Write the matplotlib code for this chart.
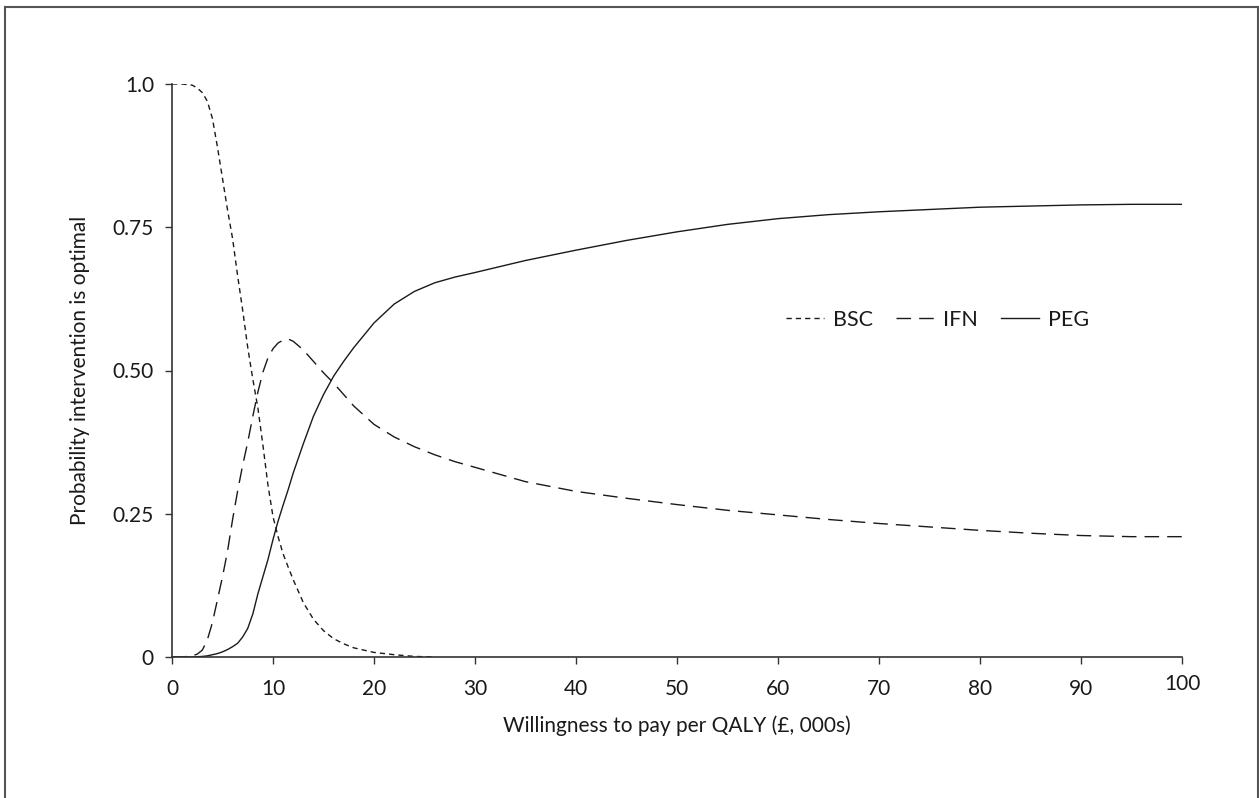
import matplotlib
matplotlib.use("Agg")
import matplotlib.pyplot as plt
from matplotlib.lines import Line2D
import matplotlib.transforms as mtrans
import numpy as np

# ---- data ----
wtp = [0, 1, 2, 2.5, 3, 3.5, 4, 4.5, 5, 5.5, 6, 6.5, 7, 7.5, 8, 8.5, 9, 9.5,
       10, 10.5, 11, 11.5, 12, 13, 14, 15, 16, 17, 18, 20, 22, 24, 26, 28,
       30, 35, 40, 45, 50, 55, 60, 65, 70, 75, 80, 85, 90, 95, 100]
bsc = [1.0, 1.0, 0.998, 0.993, 0.985, 0.97, 0.94, 0.89, 0.835, 0.78, 0.73, 0.665,
       0.605, 0.54, 0.485, 0.435, 0.37, 0.30, 0.245, 0.21, 0.18, 0.157, 0.135,
       0.095, 0.066, 0.046, 0.032, 0.023, 0.016, 0.008, 0.004, 0.001, 0.0, 0.0,
       0.0, 0.0, 0.0, 0.0, 0.0, 0.0, 0.0, 0.0, 0.0, 0.0, 0.0, 0.0, 0.0, 0.0, 0.0]
ifn = [0.0, 0.0, 0.002, 0.005, 0.012, 0.03, 0.06, 0.10, 0.14, 0.185, 0.24, 0.29,
       0.335, 0.375, 0.42, 0.462, 0.497, 0.522, 0.538, 0.548, 0.553, 0.555, 0.551,
       0.536, 0.516, 0.496, 0.478, 0.458, 0.438, 0.406, 0.384, 0.367, 0.353,
       0.341, 0.331, 0.306, 0.289, 0.277, 0.266, 0.256, 0.248, 0.240, 0.233,
       0.227, 0.221, 0.216, 0.212, 0.210, 0.210]
peg = [0.0, 0.0, 0.0, 0.0005, 0.001, 0.002, 0.004, 0.006, 0.009, 0.013, 0.018,
       0.024, 0.035, 0.05, 0.075, 0.11, 0.14, 0.17, 0.205, 0.237, 0.265, 0.292,
       0.321, 0.372, 0.42, 0.458, 0.49, 0.516, 0.54, 0.583, 0.616, 0.638, 0.653,
       0.663, 0.671, 0.692, 0.71, 0.727, 0.742, 0.755, 0.765, 0.772, 0.777,
       0.781, 0.785, 0.787, 0.789, 0.79, 0.79]
series_names = ["BSC", "IFN", "PEG"]
xticks = [0, 10, 20, 30, 40, 50, 60, 70, 80, 90, 100]
yticks = [0, 0.25, 0.5, 0.75, 1.0]
ytick_labels = ["0", "0.25", "0.50", "0.75", "1.0"]

plt.rcParams['font.family'] = ['Lato', 'DejaVu Sans']
plt.rcParams['lines.scale_dashes'] = False

W, H = 1259, 798
fig = plt.figure(figsize=(W / 100, H / 100), dpi=100)
ax = fig.add_axes([172 / W, 1 - 657 / H, (1182 - 172) / W, (657 - 84) / H])

line_col = "#1a1a1a"
txt_col = "#1a1a1a"
lw = 1.0
wtp_a = np.array(wtp)
mask = wtp_a <= 26
ax.plot(wtp_a[mask], np.array(bsc)[mask], color=line_col, lw=lw,
        linestyle=(0, (3.8, 2.9)), label=series_names[0])
ax.plot(wtp, ifn, color=line_col, lw=lw, linestyle=(0, (10.5, 5.8)),
        label=series_names[1])
ax.plot(wtp, peg, color=line_col, lw=lw, linestyle="-", label=series_names[2])

ax.set_xlim(0, 100)
ax.set_ylim(0, 1.0)
ax.set_xticks(xticks)
ax.set_xticklabels([str(t) for t in xticks])
ax.set_yticks(yticks)
ax.set_yticklabels(ytick_labels)

for s in ["top", "right"]:
    ax.spines[s].set_visible(False)
for s in ["left", "bottom"]:
    ax.spines[s].set_color("#333333")
    ax.spines[s].set_linewidth(1.2)

ax.tick_params(axis="both", direction="out", length=5, width=1.0,
               color="#333333", labelsize=15, labelcolor=txt_col)
ax.tick_params(axis="x", pad=11)
ax.tick_params(axis="y", pad=8)
ax.patch.set_visible(False)

# last x label sits a bit higher in the reference
lbls = ax.get_xticklabels()
lbls[-1].set_transform(lbls[-1].get_transform() +
                       mtrans.ScaledTranslation(0, 5 / 100, fig.dpi_scale_trans))

ax.set_xlabel("Willingness to pay per QALY (£, 000s)", fontsize=15,
              color=txt_col, labelpad=12)
ax.set_ylabel("Probability intervention is optimal", fontsize=15,
              color=txt_col, labelpad=16)

ax.legend(loc="center left", bbox_to_anchor=(0.608, 0.589), ncol=3,
          frameon=False, fontsize=15.5, handlelength=1.75, handletextpad=0.45,
          columnspacing=1.05, borderpad=0, borderaxespad=0,
          labelcolor=txt_col)

# outer frame (bottom edge cut off)
fc = "#555555"
fig.add_artist(Line2D([5 / W, 5 / W], [0, 1 - 7 / H], transform=fig.transFigure,
                      color=fc, lw=1.5))
fig.add_artist(Line2D([5 / W, 1257.5 / W], [1 - 7 / H, 1 - 7 / H],
                      transform=fig.transFigure, color=fc, lw=1.5))
fig.add_artist(Line2D([1257.5 / W, 1257.5 / W], [0, 1 - 7 / H],
                      transform=fig.transFigure, color=fc, lw=1.5))

fig.savefig("out.png", dpi=100)
